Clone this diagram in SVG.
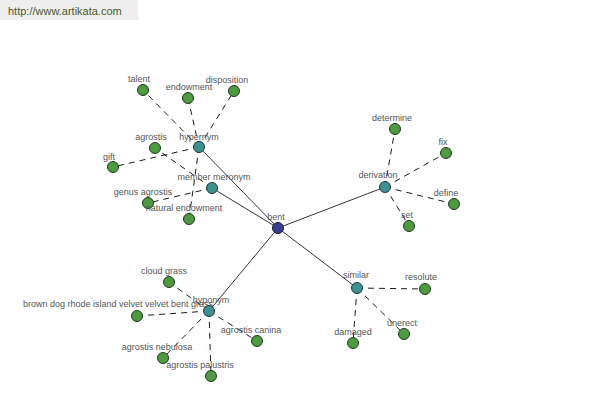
<svg xmlns="http://www.w3.org/2000/svg" width="600" height="400" viewBox="0 0 600 400">
<style>
.bg{fill:#ffffff}
.hdr{fill:#eeeeee}
.hdrt{font-family:"Liberation Sans",Arial,sans-serif;font-size:11px;fill:#4a5a2a}
.solid{stroke:#000;stroke-width:0.8;fill:none}
.dash{stroke:#000;stroke-width:0.9;fill:none;stroke-dasharray:6 5}
.leaf{fill:#4e9a40;stroke:#1e3a1e;stroke-width:1}
.rel{fill:#3f9090;stroke:#1e3a3a;stroke-width:1}
.root{fill:#3c3c8c;stroke:#1a1a3a;stroke-width:1}
text.l{font-family:"Liberation Sans",Arial,sans-serif;font-size:9px;fill:#555;text-anchor:middle}
</style>
<rect class="bg" x="0" y="0" width="600" height="400"/>
<rect class="hdr" x="0" y="0" width="138" height="20"/>
<text class="hdrt" x="8" y="15">http://www.artikata.com</text>
<g id="connectors">
<line class="solid" x1="278" y1="228" x2="199" y2="147"/>
<line class="solid" x1="278" y1="228" x2="212" y2="188"/>
<line class="solid" x1="278" y1="228" x2="385" y2="187"/>
<line class="solid" x1="278" y1="228" x2="209" y2="311"/>
<line class="solid" x1="278" y1="228" x2="357" y2="288"/>
<line class="dash" x1="199" y1="147" x2="143" y2="90"/>
<line class="dash" x1="199" y1="147" x2="188" y2="98"/>
<line class="dash" x1="199" y1="147" x2="234" y2="91"/>
<line class="dash" x1="199" y1="147" x2="113" y2="167"/>
<line class="dash" x1="199" y1="147" x2="189" y2="219"/>
<line class="dash" x1="212" y1="188" x2="155" y2="148"/>
<line class="dash" x1="212" y1="188" x2="148" y2="203"/>
<line class="dash" x1="385" y1="187" x2="395" y2="129"/>
<line class="dash" x1="385" y1="187" x2="446" y2="153"/>
<line class="dash" x1="385" y1="187" x2="454" y2="204"/>
<line class="dash" x1="385" y1="187" x2="409" y2="226"/>
<line class="dash" x1="209" y1="311" x2="169" y2="282"/>
<line class="dash" x1="209" y1="311" x2="137" y2="316"/>
<line class="dash" x1="209" y1="311" x2="257" y2="341"/>
<line class="dash" x1="209" y1="311" x2="163" y2="358"/>
<line class="dash" x1="209" y1="311" x2="211" y2="376"/>
<line class="dash" x1="357" y1="288" x2="425" y2="289"/>
<line class="dash" x1="357" y1="288" x2="404" y2="334"/>
<line class="dash" x1="357" y1="288" x2="353" y2="343"/>
</g>
<g id="n-talent"><circle class="leaf" cx="143" cy="90" r="5.5"/><text class="l" x="139" y="82">talent</text></g>
<g id="n-endowment"><circle class="leaf" cx="188" cy="98" r="5.5"/><text class="l" x="189" y="90">endowment</text></g>
<g id="n-disposition"><circle class="leaf" cx="234" cy="91" r="5.5"/><text class="l" x="227" y="83">disposition</text></g>
<g id="n-agrostis"><circle class="leaf" cx="155" cy="148" r="5.5"/><text class="l" x="151" y="140">agrostis</text></g>
<g id="n-gift"><circle class="leaf" cx="113" cy="167" r="5.5"/><text class="l" x="109" y="160">gift</text></g>
<g id="n-genus-agrostis"><circle class="leaf" cx="148" cy="203" r="5.5"/><text class="l" x="143" y="195">genus agrostis</text></g>
<g id="n-natural-endowment"><circle class="leaf" cx="189" cy="219" r="5.5"/><text class="l" x="184" y="211">natural endowment</text></g>
<g id="n-hypernym"><circle class="rel" cx="199" cy="147" r="5.5"/><text class="l" x="199" y="140">hypernym</text></g>
<g id="n-member-meronym"><circle class="rel" cx="212" cy="188" r="5.5"/><text class="l" x="214" y="180">member meronym</text></g>
<g id="n-determine"><circle class="leaf" cx="395" cy="129" r="5.5"/><text class="l" x="392" y="121">determine</text></g>
<g id="n-fix"><circle class="leaf" cx="446" cy="153" r="5.5"/><text class="l" x="443" y="145">fix</text></g>
<g id="n-define"><circle class="leaf" cx="454" cy="204" r="5.5"/><text class="l" x="446" y="196">define</text></g>
<g id="n-set"><circle class="leaf" cx="409" cy="226" r="5.5"/><text class="l" x="407" y="218">set</text></g>
<g id="n-derivation"><circle class="rel" cx="385" cy="187" r="5.5"/><text class="l" x="378" y="178">derivation</text></g>
<g id="n-cloud-grass"><circle class="leaf" cx="169" cy="282" r="5.5"/><text class="l" x="164" y="274">cloud grass</text></g>
<g id="n-brown-dog"><circle class="leaf" cx="137" cy="316" r="5.5"/><text class="l" x="118" y="307">brown dog rhode island velvet velvet bent grass</text></g>
<g id="n-agrostis-canina"><circle class="leaf" cx="257" cy="341" r="5.5"/><text class="l" x="251" y="333">agrostis canina</text></g>
<g id="n-agrostis-nebulosa"><circle class="leaf" cx="163" cy="358" r="5.5"/><text class="l" x="157" y="350">agrostis nebulosa</text></g>
<g id="n-agrostis-palustris"><circle class="leaf" cx="211" cy="376" r="5.5"/><text class="l" x="200" y="368">agrostis palustris</text></g>
<g id="n-hyponym"><circle class="rel" cx="209" cy="311" r="5.5"/><text class="l" x="211" y="303">hyponym</text></g>
<g id="n-resolute"><circle class="leaf" cx="425" cy="289" r="5.5"/><text class="l" x="421" y="280">resolute</text></g>
<g id="n-unerect"><circle class="leaf" cx="404" cy="334" r="5.5"/><text class="l" x="402" y="326">unerect</text></g>
<g id="n-damaged"><circle class="leaf" cx="353" cy="343" r="5.5"/><text class="l" x="353" y="335">damaged</text></g>
<g id="n-similar"><circle class="rel" cx="357" cy="288" r="5.5"/><text class="l" x="356" y="278">similar</text></g>
<g id="n-bent"><circle class="root" cx="278" cy="228" r="5.5"/><text class="l" x="276" y="220">bent</text></g>
</svg>
